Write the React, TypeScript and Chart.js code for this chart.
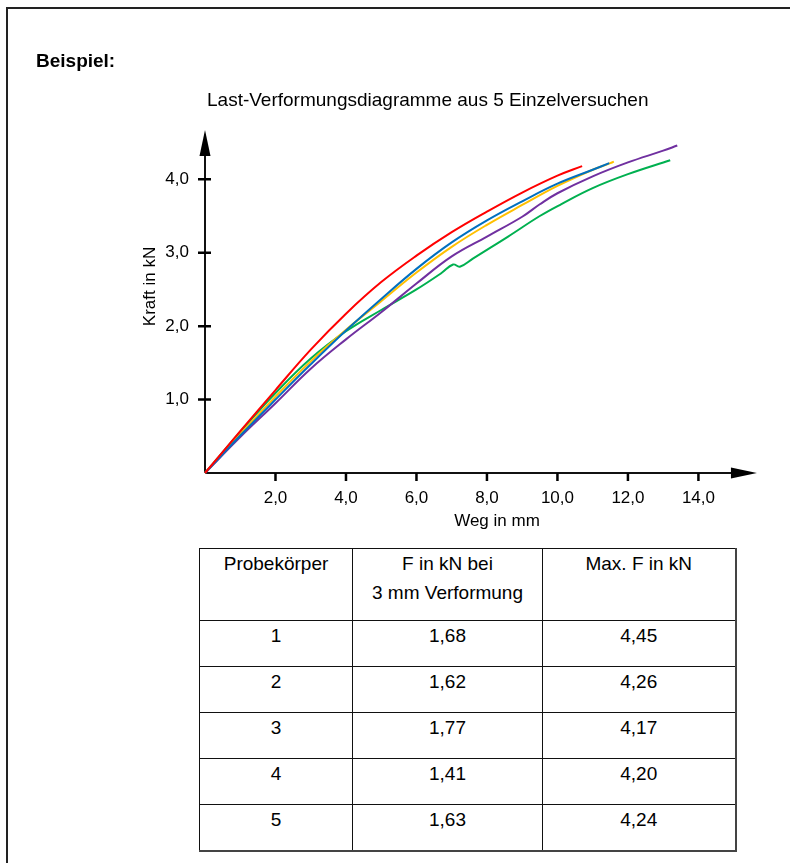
import React, { useEffect, useRef } from "react";
import { Chart, registerables } from "chart.js";

Chart.register(...registerables);

const FONT = "'Liberation Sans', Arial, Helvetica, sans-serif";

// ---- chart data ----
const X_TICKS = [2, 4, 6, 8, 10, 12, 14];
const Y_TICKS = [1, 2, 3, 4];
const X_AXIS_END = 15.66; // arrow tip of the x axis (mm)
const Y_AXIS_END = 4.67; // arrow tip of the y axis (kN)
const X_MAX = 16.57;
const Y_MAX = 5.08;

// Probekörper 1 (violett)
const S1_X = [0, 1, 2, 3, 4, 5, 6, 7, 8, 9, 9.5, 10, 11, 12, 13, 13.4];
const S1_Y = [0, 0.49, 0.95, 1.42, 1.82, 2.19, 2.58, 2.95, 3.22, 3.49, 3.66, 3.81, 4.04, 4.23, 4.39, 4.46];
// Probekörper 2 (grün)
const S2_X = [0, 1, 2, 3, 4, 5, 6, 6.7, 7.04, 7.23, 7.6, 8.1, 8.6, 9.5, 10.1, 11, 12, 13.2];
const S2_Y = [0, 0.56, 1.09, 1.56, 1.93, 2.22, 2.5, 2.72, 2.84, 2.81, 2.92, 3.07, 3.22, 3.5, 3.66, 3.88, 4.07, 4.26];
// Probekörper 3 (rot)
const S3_X = [0, 1, 2, 3, 4, 5, 6, 7, 8, 9, 10, 10.7];
const S3_Y = [0, 0.57, 1.13, 1.68, 2.17, 2.6, 2.96, 3.28, 3.56, 3.82, 4.05, 4.18];
// Probekörper 4 (blau)
const S4_X = [0, 1, 2, 3, 4, 5, 6, 7, 8, 9, 10, 11, 11.47];
const S4_Y = [0, 0.51, 1.0, 1.48, 1.94, 2.37, 2.78, 3.14, 3.44, 3.7, 3.94, 4.13, 4.22];
// Probekörper 5 (gelb)
const S5_X = [0, 1, 2, 3, 4, 5, 6, 7, 8, 9, 10, 11, 11.5, 11.6];
const S5_Y = [0, 0.53, 1.04, 1.52, 1.95, 2.34, 2.73, 3.08, 3.38, 3.65, 3.91, 4.13, 4.22, 4.24];

// ---- table data ----
const TABLE_HEAD = ["Probekörper", "F in kN bei\n3 mm Verformung", "Max. F in kN"];
const SAMPLES = ["1", "2", "3", "4", "5"];
const F_AT_3MM = ["1,68", "1,62", "1,77", "1,41", "1,63"];
const F_MAX = ["4,45", "4,26", "4,17", "4,20", "4,24"];

const fmt = (v: number) => Number(v).toFixed(1).replace(".", ",");
const pts = (xs: number[], ys: number[]) => xs.map((x, i) => ({ x, y: ys[i] }));

const arrowAxes = {
  id: "arrowAxes",
  beforeDatasetsDraw(chart: any) {
    const { ctx, scales } = chart;
    const xs = scales.x;
    const ys = scales.y;
    const x0 = xs.getPixelForValue(0);
    const y0 = ys.getPixelForValue(0);
    const xEnd = xs.getPixelForValue(X_AXIS_END);
    const yEnd = ys.getPixelForValue(Y_AXIS_END);
    const len = 26;
    const half = 5.5;
    ctx.save();
    ctx.strokeStyle = "#111";
    ctx.fillStyle = "#000";
    ctx.lineWidth = 2;
    ctx.beginPath();
    ctx.moveTo(x0, y0);
    ctx.lineTo(x0, yEnd + len - 2);
    ctx.moveTo(x0, y0);
    ctx.lineTo(xEnd - len + 2, y0);
    ctx.stroke();
    ctx.beginPath();
    ctx.moveTo(x0, yEnd);
    ctx.lineTo(x0 - half, yEnd + len);
    ctx.lineTo(x0 + half, yEnd + len);
    ctx.closePath();
    ctx.fill();
    ctx.beginPath();
    ctx.moveTo(xEnd, y0);
    ctx.lineTo(xEnd - len, y0 - half);
    ctx.lineTo(xEnd - len, y0 + half);
    ctx.closePath();
    ctx.fill();
    ctx.lineWidth = 2.5;
    ctx.strokeStyle = "#000";
    ctx.beginPath();
    Y_TICKS.forEach((v) => {
      const p = ys.getPixelForValue(v);
      ctx.moveTo(x0 - 7, p);
      ctx.lineTo(x0 + 6, p);
    });
    X_TICKS.forEach((v) => {
      const p = xs.getPixelForValue(v);
      ctx.moveTo(p, y0);
      ctx.lineTo(p, y0 + 8);
    });
    ctx.stroke();
    ctx.restore();
  },
};

export default function App() {
  const ref = useRef<HTMLCanvasElement>(null);

  useEffect(() => {
    if (!ref.current) return;
    const ds = (label: string, xs: number[], ys: number[], color: string) => ({
      label,
      data: pts(xs, ys),
      borderColor: color,
      backgroundColor: color,
      borderWidth: 2,
      pointRadius: 0,
      fill: false,
      tension: 0.4,
      clip: 6,
    });
    const chart = new Chart(ref.current, {
      type: "line",
      data: {
        datasets: [
          ds("Probekörper 3", S3_X, S3_Y, "#FF0000"),
          ds("Probekörper 4", S4_X, S4_Y, "#0070C0"),
          ds("Probekörper 5", S5_X, S5_Y, "#FFC000"),
          ds("Probekörper 1", S1_X, S1_Y, "#7030A0"),
          ds("Probekörper 2", S2_X, S2_Y, "#00B050"),
        ],
      },
      options: {
        animation: false,
        responsive: false,
        devicePixelRatio: 1,
        layout: { padding: { left: 140, right: 1, top: 100, bottom: 8 } },
        plugins: {
          legend: { display: false },
          tooltip: { enabled: false },
          title: { display: false },
        },
        scales: {
          x: {
            type: "linear",
            min: 0,
            max: X_MAX,
            grid: { display: false, drawTicks: false },
            border: { display: false },
            afterBuildTicks: (s: any) => {
              s.ticks = X_TICKS.map((v) => ({ value: v }));
            },
            afterFit: (s: any) => {
              s.height = 59;
            },
            ticks: {
              color: "#000",
              padding: 15,
              autoSkip: false,
              maxRotation: 0,
              font: { family: FONT, size: 17 },
              callback: (v: any) => fmt(v),
            },
            title: {
              display: true,
              text: "Weg in mm",
              color: "#000",
              padding: 0,
              font: { family: FONT, size: 17 },
            },
          },
          y: {
            type: "linear",
            min: 0,
            max: Y_MAX,
            grid: { display: false, drawTicks: false },
            border: { display: false },
            afterBuildTicks: (s: any) => {
              s.ticks = Y_TICKS.map((v) => ({ value: v }));
            },
            afterFit: (s: any) => {
              s.width = 65;
            },
            ticks: {
              color: "#000",
              padding: 16,
              font: { family: FONT, size: 17 },
              callback: (v: any) => fmt(v),
            },
            title: {
              display: true,
              text: "Kraft in kN",
              color: "#000",
              padding: 0,
              font: { family: FONT, size: 17 },
            },
          },
        },
      },
      plugins: [arrowAxes],
    } as any);
    return () => chart.destroy();
  }, []);

  const cell: React.CSSProperties = {
    border: "1px solid #111",
    textAlign: "center",
    verticalAlign: "top",
    padding: 0,
    lineHeight: "29px",
    fontSize: 19,
    color: "#000",
    whiteSpace: "pre-line",
  };

  return (
    <div
      style={{
        position: "absolute",
        left: 0,
        top: 0,
        width: 790,
        height: 863,
        overflow: "hidden",
        background: "#fff",
        fontFamily: FONT,
      }}
    >
      <div
        style={{
          position: "absolute",
          left: 6,
          top: 7,
          width: 900,
          height: 900,
          borderLeft: "2px solid #222",
          borderTop: "2px solid #222",
        }}
      />
      <canvas
        ref={ref}
        width={790}
        height={540}
        style={{ position: "absolute", left: 0, top: 0, width: 790, height: 540 }}
      />
      <div
        style={{
          position: "absolute",
          left: 36,
          top: 51,
          fontSize: 19,
          fontWeight: "bold",
          lineHeight: "19px",
          color: "#000",
        }}
      >
        Beispiel:
      </div>
      <div
        style={{
          position: "absolute",
          left: 207,
          top: 90,
          fontSize: 19,
          lineHeight: "19px",
          whiteSpace: "nowrap",
          color: "#000",
        }}
      >
        Last-Verformungsdiagramme aus 5 Einzelversuchen
      </div>
      <table
        style={{
          position: "absolute",
          left: 199,
          top: 548,
          width: 536,
          borderCollapse: "collapse",
          tableLayout: "fixed",
          borderRight: "2px solid #444",
          borderBottom: "2px solid #444",
        }}
      >
        <colgroup>
          <col style={{ width: 153 }} />
          <col style={{ width: 190 }} />
          <col style={{ width: 193 }} />
        </colgroup>
        <tbody>
          <tr style={{ height: 72 }}>
            {TABLE_HEAD.map((h, i) => (
              <td key={i} style={cell}>
                {h}
              </td>
            ))}
          </tr>
          {SAMPLES.map((s, i) => (
            <tr key={s} style={{ height: 46 }}>
              <td style={cell}>{s}</td>
              <td style={cell}>{F_AT_3MM[i]}</td>
              <td style={cell}>{F_MAX[i]}</td>
            </tr>
          ))}
        </tbody>
      </table>
    </div>
  );
}
